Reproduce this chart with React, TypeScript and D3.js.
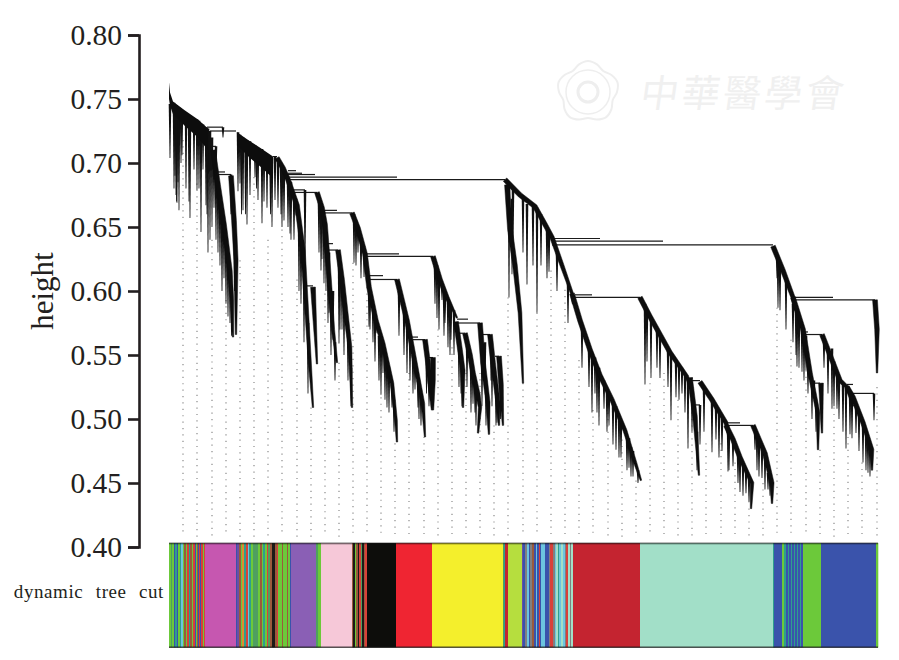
import React, { useEffect, useRef } from 'react'
import * as d3 from 'd3'

const heightTicks = [0.8, 0.75, 0.7, 0.65, 0.6, 0.55, 0.5, 0.45, 0.4]

// the two flat shoulders at the far left, [rank, upper height, lower height]
const shoulders: [number, number, number][][] = [
  [[0, 0.763, 0.75], [10, 0.755, 0.745], [40, 0.748, 0.738], [160, 0.741, 0.729], [290, 0.734, 0.72], [390, 0.727, 0.71]],
  [[680, 0.724, 0.714], [810, 0.717, 0.704], [930, 0.711, 0.696], [1040, 0.705, 0.688]],
]

// main branches of the tree, [gene rank, height]
const ridges: [number, number][][] = [
  [[440, 0.71], [490, 0.683], [550, 0.652], [610, 0.616], [630, 0.593], [640, 0.564]],
  [[620, 0.69], [650, 0.655], [670, 0.624], [670, 0.566]],
  [[1080, 0.704], [1140, 0.696], [1190, 0.687], [1280, 0.667], [1340, 0.632], [1370, 0.593], [1410, 0.542], [1440, 0.509]],
  [[1440, 0.603], [1480, 0.543]],
  [[1480, 0.677], [1530, 0.665], [1560, 0.652], [1580, 0.632], [1610, 0.601], [1640, 0.57], [1680, 0.544]],
  [[1690, 0.632], [1730, 0.609], [1770, 0.581], [1810, 0.556], [1830, 0.509]],
  [[1830, 0.661], [1890, 0.649], [1960, 0.629], [1980, 0.616], [2000, 0.603], [2070, 0.577], [2140, 0.559], [2230, 0.528], [2270, 0.499], [2280, 0.482]],
  [[2280, 0.609], [2330, 0.593], [2380, 0.577], [2460, 0.544], [2540, 0.512], [2560, 0.486]],
  [[2560, 0.562], [2590, 0.544], [2610, 0.527], [2630, 0.507]],
  [[2640, 0.548], [2640, 0.53], [2640, 0.507]],
  [[2640, 0.627], [2710, 0.609], [2780, 0.595], [2880, 0.579]],
  [[2870, 0.576], [2910, 0.554], [2940, 0.538], [2940, 0.509]],
  [[2960, 0.567], [3010, 0.55], [3040, 0.536], [3090, 0.519], [3110, 0.509], [3090, 0.489]],
  [[3110, 0.575], [3140, 0.544], [3190, 0.513], [3200, 0.488]],
  [[3210, 0.566], [3240, 0.544], [3290, 0.513], [3300, 0.495]],
  [[3300, 0.549], [3320, 0.527], [3340, 0.495]],
  [[3360, 0.687], [3510, 0.675], [3660, 0.666], [3760, 0.652], [3830, 0.642], [3930, 0.62], [4030, 0.598], [4040, 0.59]],
  [[3380, 0.683], [3410, 0.648], [3460, 0.62], [3510, 0.583], [3540, 0.528]],
  [[4030, 0.598], [4110, 0.577], [4210, 0.554], [4310, 0.534], [4430, 0.515], [4560, 0.491], [4670, 0.464], [4720, 0.452]],
  [[4710, 0.595], [4810, 0.58], [5010, 0.552], [5180, 0.533], [5210, 0.525]],
  [[5210, 0.532], [5260, 0.502], [5300, 0.456]],
  [[5310, 0.529], [5430, 0.515], [5570, 0.497], [5600, 0.485]],
  [[5570, 0.495], [5640, 0.484], [5710, 0.47], [5830, 0.45], [5820, 0.43]],
  [[5840, 0.495], [5960, 0.473], [6030, 0.45], [6030, 0.434]],
  [[6040, 0.635], [6140, 0.616], [6240, 0.595], [6260, 0.585]],
  [[7060, 0.593], [7080, 0.57], [7080, 0.536]],
  [[6240, 0.595], [6340, 0.57], [6410, 0.536], [6490, 0.505], [6490, 0.476]],
  [[6520, 0.528], [6530, 0.489]],
  [[6530, 0.566], [6610, 0.55], [6710, 0.53], [6780, 0.525], [6840, 0.51]],
  [[6780, 0.525], [6840, 0.517], [6940, 0.497], [7030, 0.476], [7030, 0.46]],
]

// horizontal joins, [from rank, to rank, height]
const merges: [number, number, number][] = [
  [380, 540, 0.728], [410, 670, 0.725], [410, 470, 0.713], [490, 560, 0.693], [490, 620, 0.691],
  [1040, 1080, 0.705], [1190, 1270, 0.694], [1190, 1330, 0.692], [1190, 1460, 0.691],
  [1190, 2280, 0.689], [1190, 3360, 0.687], [1240, 1360, 0.679], [1240, 1480, 0.677],
  [1360, 1440, 0.604], [1540, 1680, 0.663], [1540, 1830, 0.661], [1590, 1640, 0.637], [1590, 1690, 0.632],
  [1960, 2300, 0.629], [1960, 2640, 0.627], [1990, 2140, 0.612], [2000, 2280, 0.609],
  [2430, 2490, 0.564], [2440, 2560, 0.562], [2590, 2640, 0.548], [2880, 2990, 0.578], [2880, 3110, 0.575],
  [2890, 2960, 0.567], [3130, 3210, 0.566], [3260, 3300, 0.549],
  [3830, 4310, 0.641], [3830, 4940, 0.639], [3830, 6040, 0.636], [4060, 4230, 0.597], [4060, 4710, 0.595],
  [5180, 5240, 0.532], [5180, 5310, 0.53], [5240, 5310, 0.511], [5570, 5710, 0.497], [5570, 5840, 0.495],
  [6250, 6640, 0.595], [6250, 7060, 0.593], [6340, 6390, 0.568], [6360, 6530, 0.566], [6460, 6510, 0.528],
  [6780, 6840, 0.527], [6840, 7050, 0.52],
]

// long hanging branches, [rank, top, bottom]
const hairs: [number, number, number][] = [
  [10, 0.746, 0.704], [60, 0.745, 0.69], [70, 0.745, 0.675], [80, 0.744, 0.669], [90, 0.743, 0.685], [100, 0.742, 0.663],
  [130, 0.741, 0.706], [170, 0.739, 0.68], [210, 0.737, 0.657], [250, 0.735, 0.695], [280, 0.734, 0.679], [320, 0.731, 0.646],
  [340, 0.73, 0.695], [370, 0.728, 0.667], [390, 0.727, 0.63], [410, 0.725, 0.64], [430, 0.72, 0.65], [540, 0.728, 0.72],
  [470, 0.713, 0.69], [620, 0.691, 0.66],
  [690, 0.724, 0.678], [710, 0.722, 0.684], [740, 0.72, 0.663], [780, 0.718, 0.652], [810, 0.717, 0.675], [860, 0.714, 0.689],
  [890, 0.712, 0.671], [930, 0.711, 0.653], [980, 0.707, 0.665], [1030, 0.704, 0.65], [1060, 0.705, 0.671], [1120, 0.699, 0.66],
  [1130, 0.697, 0.65], [1190, 0.687, 0.65], [1220, 0.685, 0.64], [1270, 0.672, 0.659], [1360, 0.679, 0.62], [1520, 0.667, 0.616],
  [1550, 0.652, 0.606], [1600, 0.63, 0.583], [1640, 0.6, 0.562], [1700, 0.625, 0.559], [1730, 0.609, 0.57],
  [1850, 0.66, 0.622], [1890, 0.65, 0.63], [1950, 0.635, 0.611], [2000, 0.603, 0.572], [2040, 0.59, 0.56], [2080, 0.575, 0.567],
  [2120, 0.565, 0.519], [2140, 0.559, 0.536], [2180, 0.545, 0.509], [2230, 0.528, 0.509], [2380, 0.577, 0.536],
  [2460, 0.544, 0.523], [2490, 0.53, 0.509], [2680, 0.62, 0.579], [2730, 0.605, 0.593], [2760, 0.595, 0.575], [2790, 0.593, 0.556],
  [2820, 0.588, 0.562], [2920, 0.55, 0.52], [3040, 0.536, 0.512], [3060, 0.528, 0.505], [3160, 0.56, 0.525], [3220, 0.56, 0.53],
  [3280, 0.52, 0.497], [3400, 0.682, 0.595], [3430, 0.672, 0.613], [3580, 0.668, 0.605], [3680, 0.665, 0.583],
  [3720, 0.66, 0.62], [3800, 0.645, 0.615], [4230, 0.552, 0.505], [4260, 0.548, 0.52], [4300, 0.54, 0.495], [4350, 0.53, 0.508],
  [4400, 0.52, 0.495], [4470, 0.51, 0.476], [4520, 0.498, 0.47], [4600, 0.485, 0.462], [4640, 0.475, 0.455],
  [4760, 0.59, 0.527], [4820, 0.58, 0.532], [4910, 0.565, 0.532], [5020, 0.552, 0.499], [5070, 0.546, 0.517], [5100, 0.543, 0.515],
  [5190, 0.532, 0.477], [5310, 0.511, 0.48], [5430, 0.515, 0.474], [5470, 0.51, 0.484], [5590, 0.495, 0.459], [5640, 0.484, 0.463],
  [5710, 0.47, 0.443], [5770, 0.46, 0.442], [5860, 0.49, 0.476], [5930, 0.476, 0.454], [5990, 0.458, 0.445],
  [6080, 0.628, 0.61], [6090, 0.625, 0.587], [6240, 0.59, 0.56], [6280, 0.58, 0.541], [6330, 0.572, 0.537], [6370, 0.565, 0.538],
  [6450, 0.53, 0.517], [6550, 0.562, 0.54], [6630, 0.555, 0.508], [6680, 0.535, 0.508], [6770, 0.526, 0.477], [6810, 0.522, 0.488],
  [6870, 0.51, 0.489], [6940, 0.497, 0.466], [6990, 0.485, 0.458], [7050, 0.52, 0.499],
]

// shorter ones that thicken each branch
const fringe: [number, number, number][] = [
  [450, 0.7, 0.665], [470, 0.69, 0.64], [490, 0.683, 0.63], [510, 0.67, 0.62], [530, 0.66, 0.6], [550, 0.652, 0.61], [570, 0.64, 0.59],
  [590, 0.625, 0.58], [610, 0.616, 0.575], [625, 0.6, 0.565], [655, 0.65, 0.6], [660, 0.64, 0.6],
  [50, 0.747, 0.68], [75, 0.745, 0.67], [120, 0.742, 0.7], [200, 0.737, 0.67], [300, 0.733, 0.68], [380, 0.727, 0.66],
  [725, 0.72, 0.66], [765, 0.718, 0.66], [875, 0.712, 0.68], [950, 0.708, 0.67], [1015, 0.704, 0.66], [1090, 0.7, 0.665],
  [1150, 0.695, 0.655], [1210, 0.686, 0.645], [1250, 0.675, 0.64], [1300, 0.655, 0.6], [1320, 0.64, 0.59], [1350, 0.62, 0.56], [1390, 0.575, 0.52],
  [1500, 0.67, 0.63], [1530, 0.665, 0.625], [1570, 0.645, 0.6], [1590, 0.625, 0.575], [1620, 0.595, 0.55], [1660, 0.56, 0.53],
  [1710, 0.62, 0.57], [1750, 0.595, 0.55], [1790, 0.57, 0.53], [1820, 0.54, 0.51],
  [1870, 0.655, 0.62], [1920, 0.64, 0.61], [2010, 0.6, 0.57], [2060, 0.58, 0.545], [2100, 0.565, 0.53], [2160, 0.55, 0.515], [2200, 0.54, 0.505], [2250, 0.515, 0.49],
  [2300, 0.6, 0.565], [2350, 0.585, 0.55], [2410, 0.565, 0.53], [2440, 0.55, 0.52], [2500, 0.53, 0.5], [2520, 0.52, 0.495], [2575, 0.555, 0.52], [2600, 0.535, 0.51],
  [2660, 0.62, 0.59], [2700, 0.61, 0.57], [2750, 0.6, 0.565], [2810, 0.59, 0.55], [2850, 0.585, 0.55], [2900, 0.56, 0.525], [2930, 0.545, 0.51],
  [2980, 0.56, 0.525], [3020, 0.545, 0.505], [3070, 0.525, 0.495], [3130, 0.55, 0.51], [3170, 0.53, 0.495], [3230, 0.55, 0.51], [3270, 0.525, 0.495], [3315, 0.53, 0.5],
  [3440, 0.68, 0.63], [3540, 0.673, 0.63], [3640, 0.667, 0.62], [3780, 0.65, 0.61], [3880, 0.63, 0.6], [3990, 0.607, 0.575],
  [4130, 0.572, 0.54], [4200, 0.555, 0.525], [4280, 0.54, 0.505], [4380, 0.522, 0.49], [4440, 0.513, 0.48],
  [4500, 0.503, 0.47], [4580, 0.487, 0.46], [4620, 0.478, 0.455], [4690, 0.46, 0.45],
  [4780, 0.585, 0.545], [4880, 0.57, 0.54], [4990, 0.555, 0.525], [5130, 0.54, 0.52], [5160, 0.535, 0.505],
  [5230, 0.525, 0.49], [5280, 0.49, 0.46], [5350, 0.525, 0.49], [5500, 0.505, 0.47], [5530, 0.5, 0.475],
  [5600, 0.49, 0.46], [5690, 0.473, 0.45], [5740, 0.465, 0.44], [5800, 0.455, 0.435], [5880, 0.488, 0.46], [5900, 0.483, 0.455], [5960, 0.473, 0.445], [6010, 0.455, 0.44],
  [6110, 0.62, 0.585], [6170, 0.61, 0.57], [6270, 0.585, 0.55], [6300, 0.578, 0.54], [6350, 0.565, 0.53], [6390, 0.545, 0.52], [6430, 0.53, 0.5], [6470, 0.515, 0.49],
  [6590, 0.553, 0.52], [6650, 0.545, 0.51], [6700, 0.532, 0.5], [6740, 0.528, 0.49], [6830, 0.518, 0.485], [6900, 0.505, 0.475], [6970, 0.49, 0.46], [7010, 0.48, 0.455],
]

// dotted guides under the leaves
const guideRanks = [140, 280, 430, 570, 710, 850, 990, 1130, 1280, 1420, 1560, 1700, 1840, 1980, 2120, 2260, 2400, 2550, 2690, 2830, 2970, 3110, 3250, 3390, 3540, 3680, 3820, 3960, 4100, 4240, 4390, 4530, 4670, 4810, 4950, 5090, 5230, 5370, 5520, 5660, 5800, 5940, 6080, 6220, 6370, 6510, 6650, 6790, 6930, 7080]
const guideTops = [0.718, 0.684, 0.64, 0.593, 0.624, 0.689, 0.64, 0.648, 0.609, 0.509, 0.598, 0.544, 0.622, 0.603, 0.517, 0.481, 0.536, 0.486, 0.57, 0.556, 0.536, 0.536, 0.495, 0.595, 0.528, 0.583, 0.616, 0.601, 0.546, 0.507, 0.515, 0.484, 0.452, 0.528, 0.536, 0.515, 0.515, 0.481, 0.481, 0.466, 0.43, 0.45, 0.587, 0.562, 0.538, 0.476, 0.509, 0.486, 0.466, 0.525]
const guideBottom = 0.408

// colour strip: rank where a run ends, and its module
const stripRuns: [number, string][] = [
  [20, 'g'], [30, 'sg'], [50, 'g'], [60, 'db'], [80, 'tl'], [90, 'db'], [110, 'g'], [120, 'tl'], [140, 'lb'], [150, 'g'], [170, 'br'], [180, 'g'], [200, 'r'],
  [210, 'tl'], [230, 'br'], [240, 'g'], [260, 'r'], [270, 'db'], [280, 'g'], [290, 'br'], [300, 'db'], [310, 'r'], [320, 'db'], [340, 'r'], [350, 'g'], [360, 'r'],
  [670, 'orchid'],
  [680, 'db'], [700, 'p'], [720, 'br'], [730, 'g'], [750, 'o'], [770, 'tl'], [790, 'r'], [800, 'lb'], [820, 'tl'], [840, 'g'], [860, 'sg'], [890, 'sg'], [910, 'g'],
  [930, 'br'], [940, 'g'], [960, 'tl'], [980, 'g'], [990, 'r'], [1010, 'sg'], [1030, 'br'], [1040, 'k'], [1060, 'k'], [1080, 'br'],
  [1090, 'r'], [1110, 'g'], [1130, 'g'], [1140, 'br'], [1160, 'g'], [1180, 'g'], [1190, 'br'], [1210, 'g'], [1220, 'db'],
  [1470, 'purple'], [1490, 'sg'], [1520, 'g'], [1830, 'pink'],
  [1840, 'br'], [1860, 'k'], [1870, 'g'], [1890, 'br'], [1900, 'k'], [1920, 'r'], [1930, 'sg'], [1950, 'k'], [1960, 'br'], [1980, 'r'],
  [2270, 'black'], [2630, 'red'], [3340, 'yellow'], [3350, 'sg'], [3360, 'tl'], [3390, 'crimson'], [3530, 'lime'],
  [3540, 'p'], [3560, 'db'], [3580, 'gr'], [3600, 'lb'], [3610, 'db'], [3630, 'gr'], [3650, 'br'], [3670, 'db'], [3680, 'lb'], [3700, 'db'], [3710, 'r'], [3720, 'db'],
  [3740, 'lb'], [3760, 'lb'], [3780, 'db'], [3800, 'db'], [3810, 'gr'], [3840, 'r'], [3860, 'gr'], [3870, 'lb'], [3890, 'aq'], [3900, 'tl'], [3920, 'lb'], [3940, 'aq'],
  [3960, 'lb'], [3970, 'gr'], [3990, 'r'], [4010, 'aq'], [4020, 'gr'], [4040, 'aq'],
  [4710, 'crimson'], [6040, 'aq'], [6050, 'tl'], [6130, 'db'],
  [6150, 'g'], [6170, 'tl'], [6190, 'db'], [6200, 'tl'], [6220, 'db'], [6230, 'tl'], [6250, 'db'], [6260, 'tl'], [6280, 'db'], [6290, 'tl'], [6310, 'db'], [6320, 'tl'], [6340, 'db'],
  [6520, 'g'], [7070, 'db'], [7090, 'g'],
]

const moduleNames = ['g', 'sg', 'db', 'tl', 'lb', 'r', 'br', 'p', 'k', 'gr', 'aq', 'o', 'orchid', 'purple', 'pink', 'black', 'red', 'yellow', 'crimson', 'lime']
const moduleColors = ['#6cc93a', '#4f9f60', '#3a53ab', '#2e9e8e', '#6cc5e0', '#d8403a', '#9b5a3c', '#6a4fa5', '#1c1a18', '#808080', '#a2dfc8', '#e08a30', '#c657b0', '#8a5fb5', '#f6c8d8', '#0d0d0b', '#ef2532', '#f4ef2c', '#c42430', '#b6de3e']
const moduleColor = d3.scaleOrdinal<string, string>().domain(moduleNames).range(moduleColors)

const sealRadii = [31, 29, 26, 29, 31, 29, 26, 29, 31, 29, 26, 29, 31, 29, 26, 29, 31, 29, 26, 29]

const x = d3.scaleLinear().domain([0, 7090]).range([169, 878])
const y = d3.scaleLinear().domain([0.4, 0.8]).range([547, 35])

// tapered outline of a branch, thick at the top and thin at the end
function ridgePath(points: [number, number][]) {
  const px = points.map((d) => [x(d[0]), y(d[1])])
  const left: [number, number][] = []
  const right: [number, number][] = []
  px.forEach((d, i) => {
    const a = px[Math.max(i - 1, 0)]
    const b = px[Math.min(i + 1, px.length - 1)]
    const dx = b[0] - a[0]
    const dy = b[1] - a[1]
    const len = Math.hypot(dx, dy) || 1
    const t = i / (px.length - 1)
    const w = (1.4 + 3.4 * (1 - t * t * t * t)) / 2
    left.push([d[0] - (dy / len) * w, d[1] + (dx / len) * w])
    right.unshift([d[0] + (dy / len) * w, d[1] - (dx / len) * w])
  })
  return d3.line()([...left, ...right]) + 'Z'
}

// hanging branch as a thin wedge
function hairPath(d: [number, number, number], top: number) {
  const cx = x(d[0])
  return d3.line()([[cx - top / 2, y(d[1])], [cx + top / 2, y(d[1])], [cx + 0.4, y(d[2])], [cx - 0.4, y(d[2])]]) + 'Z'
}

const shoulderArea = d3.area<[number, number, number]>()
  .x((d) => x(d[0]))
  .y0((d) => y(d[2]))
  .y1((d) => y(d[1]))

export default function App() {
  const axisRef = useRef<SVGGElement>(null)

  useEffect(() => {
    const axis = d3.axisLeft(y).tickValues(heightTicks).tickFormat(d3.format('.2f')).tickSize(11).tickPadding(6)
    const sel = d3.select(axisRef.current)
    sel.call(axis as any)
    sel.selectAll('path, line').attr('stroke', '#231f20').attr('stroke-width', 2.6)
    sel.selectAll('text')
      .attr('font-family', '"Liberation Serif"')
      .attr('font-size', 29.5)
      .attr('fill', '#231f20')
  }, [])

  const seal = d3.lineRadial<number>()
    .angle((_, i) => (i / sealRadii.length) * 2 * Math.PI)
    .radius((d) => d)
    .curve(d3.curveCardinalClosed)

  return (
    <svg width={899} height={660} style={{ position: 'absolute', left: 0, top: 0 }}>
      <rect width={899} height={660} fill="#fff" />

      <g transform="translate(588,92)" fill="none" stroke="#eeeeee" strokeWidth={2}>
        <path d={seal(sealRadii) as string} />
        <circle r={22} strokeWidth={1.5} />
        <circle r={10} strokeWidth={3} />
      </g>
      <text x={640} y={107} fontFamily='"Noto Sans CJK TC"' fontSize={38} fill="#f0f0f0" textLength={203} transform="skewX(-8) translate(14,0)">
        中華醫學會
      </text>

      {guideRanks.map((d, i) => (
        <line key={d} x1={x(d)} x2={x(d)} y1={y(guideTops[i])} y2={y(guideBottom)} stroke="#8a8a8a" strokeWidth={1.2} strokeDasharray="1.2 5.2" />
      ))}

      {merges.map((d, i) => (
        <line key={i} x1={x(d[0])} x2={x(d[1])} y1={y(d[2])} y2={y(d[2])} stroke="#1a1a1a" strokeWidth={1.2} />
      ))}
      {hairs.map((d, i) => (
        <path key={i} d={hairPath(d, 2.6)} fill="#111" />
      ))}
      {fringe.map((d, i) => (
        <path key={i} d={hairPath(d, 2.6)} fill="#111" />
      ))}
      {shoulders.map((d, i) => (
        <path key={i} d={shoulderArea(d) as string} fill="#0d0d0d" />
      ))}
      {ridges.map((d, i) => (
        <path key={i} d={ridgePath(d)} fill="#0d0d0d" stroke="#0d0d0d" strokeWidth={0.5} />
      ))}

      <g ref={axisRef} transform="translate(139,0)" />

      <text transform="translate(53,291) rotate(-90)" textAnchor="middle" fontFamily='"Liberation Serif"' fontSize={31} fill="#231f20">
        height
      </text>
      <text x={164} y={598} textAnchor="end" fontFamily='"Liberation Serif"' fontSize={19} letterSpacing={0.6} wordSpacing={7} fill="#231f20">
        dynamic tree cut
      </text>

      <g>
        {stripRuns.map((d, i) => {
          const x0 = x(i === 0 ? 0 : stripRuns[i - 1][0])
          return <rect key={i} x={x0} y={543} width={x(d[0]) - x0 + 0.3} height={104.5} fill={moduleColor(d[1])} />
        })}
        <rect x={x(0)} y={542.5} width={x(7090) - x(0)} height={1.8} fill="#111" opacity={0.55} />
        <rect x={x(0)} y={646.5} width={x(7090) - x(0)} height={1.5} fill="#111" opacity={0.7} />
      </g>
    </svg>
  )
}
